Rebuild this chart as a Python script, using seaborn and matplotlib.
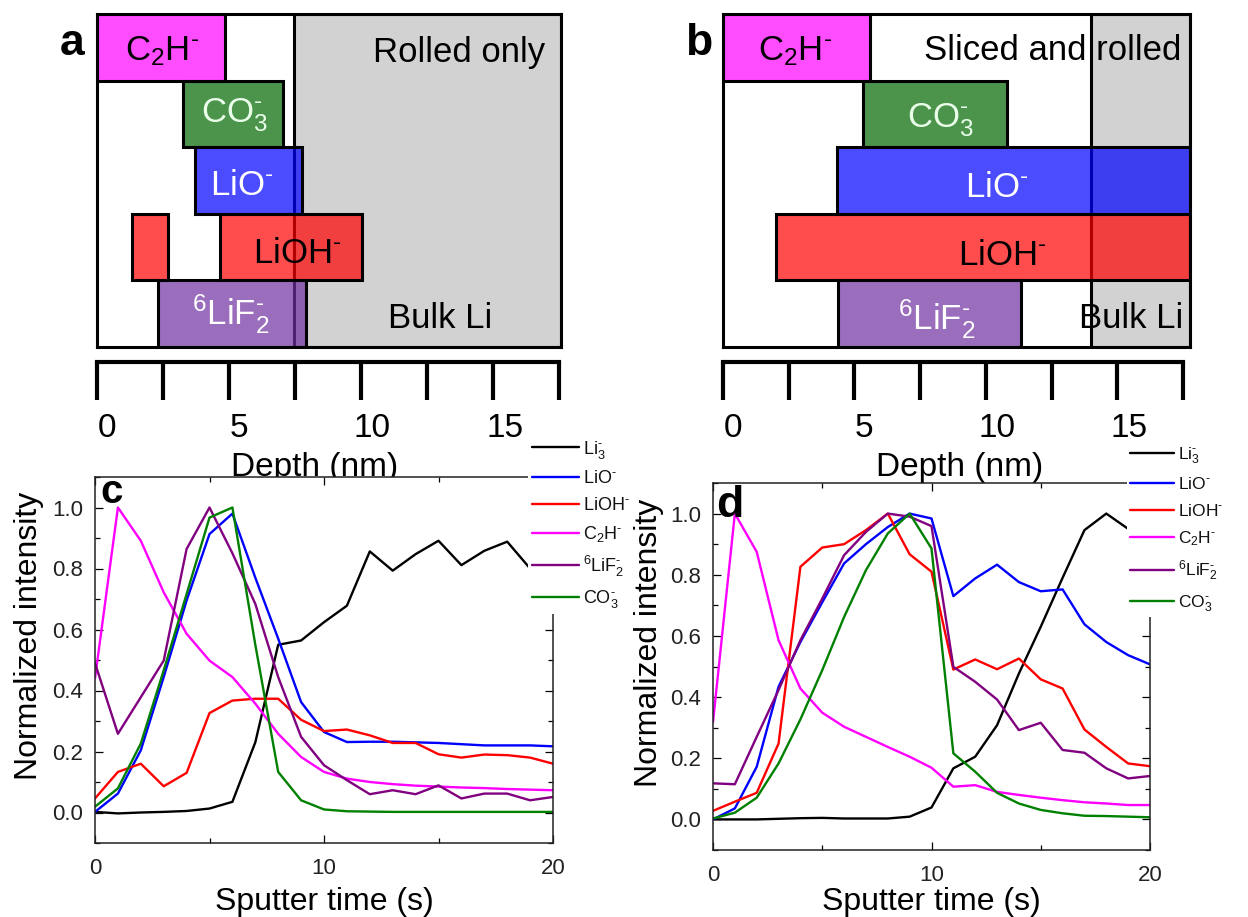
import numpy as np
import pandas as pd
import matplotlib
matplotlib.use("Agg")
import matplotlib.pyplot as plt
from matplotlib.ticker import FixedLocator, NullFormatter, FormatStrFormatter, MultipleLocator
import seaborn as sns

# ---------------- data ----------------
species = ["C2H", "CO3", "LiO", "LiOH", "LiF2"]
box_labels = [r"C$_2$H$^{\text{-}}$", r"CO$_3^{\text{-}}$", r"LiO$^{\text{-}}$",
              r"LiOH$^{\text{-}}$", r"$^6$LiF$_2^{\text{-}}$"]

# depth ranges (nm) where each fragment is found
a_start = [0.0, 3.26, 3.70, 4.66, 2.30]
a_end = [4.85, 7.05, 7.77, 10.04, 7.90]
a_extra_start = [1.33]          # second LiOH- segment (rolled only)
a_extra_end = [2.69]
a_bulk_start = 7.46
a_depth_max = 17.58

b_start = [0.0, 5.33, 4.34, 2.02, 4.37]
b_end = [5.59, 10.80, 17.76, 17.76, 11.33]
b_bulk_start = 14.0
b_depth_max = 17.76

depth_ticks = [0, 2.5, 5, 7.5, 10, 12.5, 15, 17.5]
depth_labels = ["0", "5", "10", "15"]

# depth profiles (normalized intensity vs sputter time)
t = list(range(21))
series_keys = ["Li3", "LiO", "LiOH", "C2H", "LiF2", "CO3"]
legend_labels = [r"Li$_3^{\text{-}}$", r"LiO$^{\text{-}}$", r"LiOH$^{\text{-}}$",
                 r"C$_2$H$^{\text{-}}$", r"$^6$LiF$_2^{\text{-}}$", r"CO$_3^{\text{-}}$"]
line_colors = ["#000000", "#0000ff", "#ff0000", "#ff00ff", "#800080", "#008000"]

c_Li3 = [0.002, -0.003, 0.0, 0.002, 0.005, 0.013, 0.035, 0.23, 0.55, 0.564, 0.624,
         0.678, 0.856, 0.793, 0.847, 0.891, 0.811, 0.858, 0.888, 0.80, 0.79]
c_LiO = [0.002, 0.062, 0.204, 0.444, 0.695, 0.913, 0.98, 0.77, 0.57, 0.362, 0.264,
         0.231, 0.232, 0.232, 0.230, 0.228, 0.224, 0.220, 0.220, 0.220, 0.217]
c_LiOH = [0.046, 0.133, 0.16, 0.086, 0.13, 0.326, 0.367, 0.373, 0.373, 0.304, 0.267,
          0.272, 0.253, 0.228, 0.228, 0.191, 0.18, 0.19, 0.188, 0.18, 0.16]
c_C2H = [0.44, 1.0, 0.891, 0.722, 0.586, 0.498, 0.444, 0.357, 0.258, 0.182, 0.133,
         0.111, 0.1, 0.093, 0.088, 0.085, 0.082, 0.08, 0.077, 0.075, 0.073]
c_LiF2 = [0.49, 0.258, 0.378, 0.498, 0.864, 1.0, 0.85, 0.684, 0.444, 0.248, 0.155,
          0.106, 0.06, 0.073, 0.06, 0.089, 0.046, 0.062, 0.062, 0.04, 0.051]
c_CO3 = [0.019, 0.079, 0.226, 0.466, 0.716, 0.967, 1.0, 0.55, 0.133, 0.04, 0.01,
         0.004, 0.003, 0.002, 0.002, 0.002, 0.002, 0.002, 0.002, 0.002, 0.002]

d_Li3 = [0.0, 0.0, 0.0, 0.002, 0.004, 0.005, 0.003, 0.003, 0.003, 0.009, 0.039,
         0.167, 0.205, 0.308, 0.477, 0.63, 0.79, 0.946, 1.0, 0.95, 0.92]
d_LiO = [0.0, 0.036, 0.172, 0.434, 0.58, 0.71, 0.837, 0.9, 0.956, 1.0, 0.984,
         0.73, 0.788, 0.833, 0.776, 0.746, 0.752, 0.638, 0.58, 0.537, 0.507]
d_LiOH = [0.028, 0.058, 0.087, 0.248, 0.826, 0.889, 0.9, 0.946, 1.0, 0.867, 0.81,
          0.49, 0.523, 0.491, 0.526, 0.458, 0.428, 0.294, 0.237, 0.183, 0.174]
d_C2H = [0.318, 1.0, 0.875, 0.586, 0.428, 0.349, 0.303, 0.27, 0.237, 0.205, 0.169,
         0.107, 0.112, 0.09, 0.08, 0.071, 0.063, 0.056, 0.052, 0.047, 0.047]
d_LiF2 = [0.118, 0.115, 0.27, 0.423, 0.586, 0.722, 0.864, 0.94, 1.0, 0.99, 0.959,
          0.499, 0.45, 0.392, 0.292, 0.316, 0.227, 0.218, 0.167, 0.134, 0.142]
d_CO3 = [0.003, 0.022, 0.071, 0.183, 0.327, 0.488, 0.662, 0.815, 0.935, 1.0, 0.886,
         0.216, 0.156, 0.087, 0.052, 0.031, 0.02, 0.012, 0.011, 0.009, 0.007]

# ---------------- style ----------------
sns.set_theme(style="ticks")
plt.rcParams["font.family"] = ["Liberation Sans", "DejaVu Sans"]
plt.rcParams["mathtext.fontset"] = "custom"
plt.rcParams["mathtext.rm"] = "Liberation Sans"
plt.rcParams["mathtext.it"] = "Liberation Sans:italic"
plt.rcParams["mathtext.bf"] = "Liberation Sans:bold"
plt.rcParams["mathtext.default"] = "regular"

W, H = 1248, 917
DPI = 100
fig = plt.figure(figsize=(W / DPI, H / DPI), dpi=DPI, facecolor="white")


def px_rect(x0, y0, x1, y1):
    """Figure-fraction rectangle from pixel corners (y measured from top)."""
    return [x0 / W, 1 - y1 / H, (x1 - x0) / W, (y1 - y0) / H]


bar_rgb = {"C2H": (1.0, 0.0, 1.0), "CO3": (0.0, 0.40, 0.0), "LiO": (0.0, 0.0, 1.0),
           "LiOH": (1.0, 0.0, 0.0), "LiF2": (0.44, 0.19, 0.63)}
text_colors = ["black", "#eaffea", "white", "black", "white"]
BOX_LW = 2.2


def draw_box(ax, starts, ends, bulk_start, xmax, text_x, text_dy, extra=None):
    ax.set_xlim(0, xmax)
    ax.set_ylim(4.5, -0.5)
    ax.axvspan(bulk_start, xmax, facecolor="#d2d2d2", edgecolor="black",
               lw=BOX_LW, zorder=0.5)
    rows = np.arange(len(species))
    widths = np.array(ends) - np.array(starts)
    cols = [bar_rgb[s] + (0.7,) for s in species]
    ax.barh(rows, widths, left=starts, height=1.0, color=cols,
            edgecolor="black", linewidth=BOX_LW, zorder=2)
    if extra is not None:
        r, s0, s1 = extra
        for a0, a1 in zip(s0, s1):
            ax.barh([r], [a1 - a0], left=[a0], height=1.0,
                    color=[bar_rgb[species[r]] + (0.7,)],
                    edgecolor="black", linewidth=BOX_LW, zorder=2)
    for i, lab in enumerate(box_labels):
        ax.text(text_x[i], i + text_dy[i], lab, ha="center", va="baseline",
                fontsize=25, color=text_colors[i], zorder=4)
    ax.set_xticks([])
    ax.set_yticks([])
    for sp in ax.spines.values():
        sp.set_linewidth(BOX_LW)
        sp.set_color("black")
        sp.set_zorder(3)
    ax.set_facecolor("white")


def draw_scale(ax, label_x_px):
    ax.set_xlim(0, 17.5)
    for s in ["left", "right", "top"]:
        ax.spines[s].set_visible(False)
    ax.spines["bottom"].set_linewidth(3.0)
    ax.spines["bottom"].set_color("black")
    ax.set_yticks([])
    ax.xaxis.set_major_locator(FixedLocator(depth_ticks))
    ax.xaxis.set_major_formatter(NullFormatter())
    # labels sit slightly right of their ticks
    ax.set_xticks([0.38, 5.38, 10.42, 15.45], labels=depth_labels, minor=True)
    ax.tick_params(axis="x", which="major", direction="out", length=27.4,
                   width=3.0, color="black")
    ax.tick_params(axis="x", which="minor", length=27.4, width=0, pad=9.1,
                   labelsize=24, labelcolor="black")
    ax.set_facecolor("none")
    ax.set_xlabel("Depth (nm)", fontsize=24, color="black")
    ax.xaxis.set_label_coords(label_x_px / W, 1 - 452 / H,
                              transform=fig.transFigure)


# ---------------- panel a ----------------
ax_a = fig.add_axes(px_rect(97, 14, 561, 347))
draw_box(ax_a, a_start, a_end, a_bulk_start, a_depth_max,
         text_x=[2.46, 5.21, 5.49, 7.58, 5.08],
         text_dy=[0.195, 0.135, 0.225, 0.24, 0.165],
         extra=(3, a_extra_start, a_extra_end))
ax_a.text(16.97, 0 + 0.22, "Rolled only", ha="right", va="baseline",
          fontsize=25, color="black", zorder=4)
ax_a.text(12.99, 4 + 0.21, "Bulk Li", ha="center", va="baseline",
          fontsize=25, color="black", zorder=4)

ax_sa = fig.add_axes(px_rect(97, 361, 559, 362))
draw_scale(ax_sa, 315)

# ---------------- panel b ----------------
ax_b = fig.add_axes(px_rect(723, 14, 1190, 347))
draw_box(ax_b, b_start, b_end, b_bulk_start, b_depth_max,
         text_x=[2.74, 8.25, 10.40, 10.61, 8.14],
         text_dy=[0.195, 0.21, 0.255, 0.27, 0.24])
ax_b.text(17.42, 0 + 0.195, "Sliced and rolled", ha="right", va="baseline",
          fontsize=25, color="black", zorder=4)
ax_b.text(17.50, 4 + 0.21, "Bulk Li", ha="right", va="baseline",
          fontsize=25, color="black", zorder=4)

ax_sb = fig.add_axes(px_rect(723, 361, 1183, 362))
draw_scale(ax_sb, 960)


# ---------------- panels c, d ----------------
def draw_profiles(ax, values, legend_anchor, legend_size, handlelen, spacing,
                  ylabel_x_px, ylabel_y_px, xlabel_x_px):
    df = pd.DataFrame({
        "time": np.tile(t, len(series_keys)),
        "intensity": np.concatenate(values),
        "species": np.repeat(series_keys, len(t)),
    })
    for key, col in zip(series_keys, line_colors):
        sns.lineplot(data=df[df["species"] == key], x="time", y="intensity",
                     color=col, lw=1.7, ax=ax, legend=False)
    ax.set_xlim(0, 20)
    ax.set_ylim(-0.1, 1.1)
    ax.xaxis.set_major_locator(FixedLocator([0, 10, 20]))
    ax.xaxis.set_minor_locator(FixedLocator([5, 15]))
    ax.yaxis.set_major_locator(MultipleLocator(0.2))
    ax.yaxis.set_minor_locator(MultipleLocator(0.1))
    ax.yaxis.set_major_formatter(FormatStrFormatter("%.1f"))
    ax.set_yticks(np.round(np.arange(0, 1.01, 0.2), 1))
    ax.tick_params(which="both", direction="in", top=True, right=True,
                   color="black", width=0.9)
    ax.tick_params(which="major", length=5.5)
    ax.tick_params(which="minor", length=3.5)
    ax.tick_params(axis="x", which="major", labelsize=16, pad=11,
                   labelcolor="#222222")
    ax.tick_params(axis="y", which="major", labelsize=16, pad=8.5,
                   labelcolor="#222222")
    for sp in ax.spines.values():
        sp.set_linewidth(1.1)
        sp.set_color("#222222")
    ax.set_facecolor("white")
    ax.set_xlabel("Sputter time (s)", fontsize=23, color="black")
    ax.xaxis.set_label_coords(xlabel_x_px / W, 1 - 887 / H,
                              transform=fig.transFigure)
    ax.set_ylabel("Normalized intensity", fontsize=23, color="black")
    ax.yaxis.set_label_coords(ylabel_x_px / W, 1 - ylabel_y_px / H,
                              transform=fig.transFigure)
    leg = ax.legend(ax.get_lines(), legend_labels, loc="upper left",
                    bbox_to_anchor=(legend_anchor[0] / W, 1 - legend_anchor[1] / H),
                    bbox_transform=fig.transFigure, fontsize=legend_size,
                    frameon=True, facecolor="white", edgecolor="none",
                    framealpha=1, fancybox=False, borderpad=0.2,
                    borderaxespad=0, handlelength=handlelen,
                    handletextpad=0.25, labelspacing=spacing)
    leg.set_zorder(6)
    for txt in leg.get_texts():
        txt.set_color("#111111")


ax_c = fig.add_axes(px_rect(95, 477, 553, 843))
draw_profiles(ax_c, [c_Li3, c_LiO, c_LiOH, c_C2H, c_LiF2, c_CO3],
              legend_anchor=(528, 435), legend_size=13, handlelen=2.6,
              spacing=0.54,
              ylabel_x_px=44, ylabel_y_px=636, xlabel_x_px=324)

ax_d = fig.add_axes(px_rect(713, 483, 1150, 850))
draw_profiles(ax_d, [d_Li3, d_LiO, d_LiOH, d_C2H, d_LiF2, d_CO3],
              legend_anchor=(1127, 442), legend_size=12.5, handlelen=2.5,
              spacing=0.6,
              ylabel_x_px=664, ylabel_y_px=643, xlabel_x_px=931)

# panel letters
for letter, x, y, size in [("a", 72, 55, 32), ("b", 699, 55, 32),
                           ("c", 112, 503, 29), ("d", 730, 517, 32)]:
    fig.text(x / W, 1 - y / H, letter, ha="center", va="baseline",
             fontsize=size, fontweight="bold", color="black", zorder=10)

fig.savefig("out.png", dpi=DPI, facecolor="white")
